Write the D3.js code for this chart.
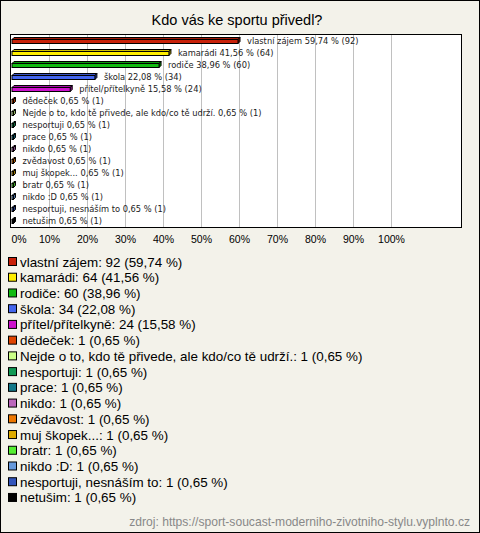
<!DOCTYPE html>
<html><head><meta charset="utf-8">
<script src="https://cdn.jsdelivr.net/npm/d3@7/dist/d3.min.js"></script>
<style>
html,body{margin:0;padding:0;background:#fff;}
svg{display:block;}
</style>
</head><body>
<script>
const title = "Kdo vás ke sportu přivedl?";
const categories = ["vlastní zájem","kamarádi","rodiče","škola","přítel/přítelkyně","dědeček","Nejde o to, kdo tě přivede, ale kdo/co tě udrží.","nesportuji","prace","nikdo","zvědavost","muj škopek...","bratr","nikdo :D","nesportuji, nesnáším to","netušim"];
const counts = [92,64,60,34,24,1,1,1,1,1,1,1,1,1,1,1];
const percents = [59.74,41.56,38.96,22.08,15.58,0.65,0.65,0.65,0.65,0.65,0.65,0.65,0.65,0.65,0.65,0.65];
const colors = ["#c8210a","#ffee00","#11bb11","#4466ee","#cc11cc","#e04400","#ccff88","#119955","#117788","#bb66bb","#ee7700","#ddaa00","#55ee33","#6699dd","#3355bb","#000000"];
const tickValues = [0,10,20,30,40,50,60,70,80,90,100];
const source = "zdroj: https://sport-soucast-moderniho-zivotniho-stylu.vyplnto.cz";

const W = 480, H = 533;
const fmt = v => v.toFixed(2).replace(".", ",");
const svg = d3.select("body").append("svg").attr("width", W).attr("height", H);

svg.append("rect").attr("x",0.5).attr("y",0.5).attr("width",W-1).attr("height",H-1)
  .attr("fill","#f3f2ea").attr("stroke","#000");

svg.append("text").attr("x",237).attr("y",25).attr("text-anchor","middle")
  .attr("font-family","Liberation Sans, Arial, sans-serif").attr("font-size",14.5).attr("fill","#000").text(title);

const plotL = 11, plotR = 461, plotT = 35, plotB = 227;
const x = d3.scaleLinear().domain([0,100]).range([plotL, 391]);
const y = d3.scaleBand().domain(categories).range([plotT, plotB]);

svg.append("rect").attr("x",plotL-0.5).attr("y",plotT-0.5).attr("width",plotR-plotL+1).attr("height",plotB-plotT+1)
  .attr("fill","#fff").attr("stroke","#000");

// grid lines
const grid = svg.append("g").attr("transform",`translate(0,${plotB})`)
  .call(d3.axisBottom(x).tickValues(tickValues.slice(1)).tickSize(-(plotB-plotT)).tickFormat(""));
grid.select(".domain").remove();
grid.selectAll("line").attr("stroke","#c0c0c0").attr("shape-rendering","crispEdges");

// tick labels
const ax = svg.append("g").attr("transform",`translate(0,${plotB+6})`)
  .call(d3.axisBottom(x).tickValues(tickValues).tickSize(0).tickFormat(d => d + "%"));
ax.select(".domain").remove();
ax.selectAll("text").attr("font-family","Liberation Sans, Arial, sans-serif").attr("font-size",10.5).attr("fill","#000");
ax.selectAll(".tick").filter(d => d === 0).select("text").attr("text-anchor","start").attr("x",0);

// bars (3D style)
const dep = 2;
const bars = svg.append("g");
categories.forEach((c,i) => {
  const cy = y(c) + y.bandwidth()/2;
  const x0 = x(0) + 1, x1 = x(percents[i]);
  const top = cy - 1.5, bot = cy + 2.5;
  const col = d3.color(colors[i]);
  const g = bars.append("g");
  g.append("path").attr("d",`M${x0},${top}L${x0+dep},${top-dep}L${x1+dep},${top-dep}L${x1},${top}Z`)
    .attr("fill", col.darker(0.6)).attr("stroke","#000").attr("stroke-width",1);
  g.append("path").attr("d",`M${x1},${top}L${x1+dep},${top-dep}L${x1+dep},${bot-dep}L${x1},${bot}Z`)
    .attr("fill", col.darker(1)).attr("stroke","#000").attr("stroke-width",1);
  g.append("rect").attr("x",x0).attr("y",top).attr("width",Math.max(0,x1-x0)).attr("height",bot-top)
    .attr("fill", col).attr("stroke","#000").attr("stroke-width",1);
  g.append("text").attr("x", x1 + dep + 7).attr("y", cy + 3)
    .attr("font-family","DejaVu Sans, Verdana, sans-serif").attr("font-size",8.3).attr("fill","#222")
    .text(`${c} ${fmt(percents[i])} % (${counts[i]})`);
});

// legend
const lg = svg.append("g");
categories.forEach((c,i) => {
  const ly = 262 + i*15.73;
  lg.append("rect").attr("x",8.5).attr("y",ly-4.5).attr("width",8).attr("height",8)
    .attr("fill",colors[i]).attr("stroke","#000");
  lg.append("text").attr("x",20).attr("y",ly+4.5)
    .attr("font-family","Liberation Sans, Arial, sans-serif").attr("font-size",13.4).attr("fill","#000")
    .text(`${c}: ${counts[i]} (${fmt(percents[i])} %)`);
});

svg.append("text").attr("x",470).attr("y",526).attr("text-anchor","end")
  .attr("font-family","Liberation Sans, Arial, sans-serif").attr("font-size",12.1).attr("fill","#888").text(source);
</script>
</body></html>
